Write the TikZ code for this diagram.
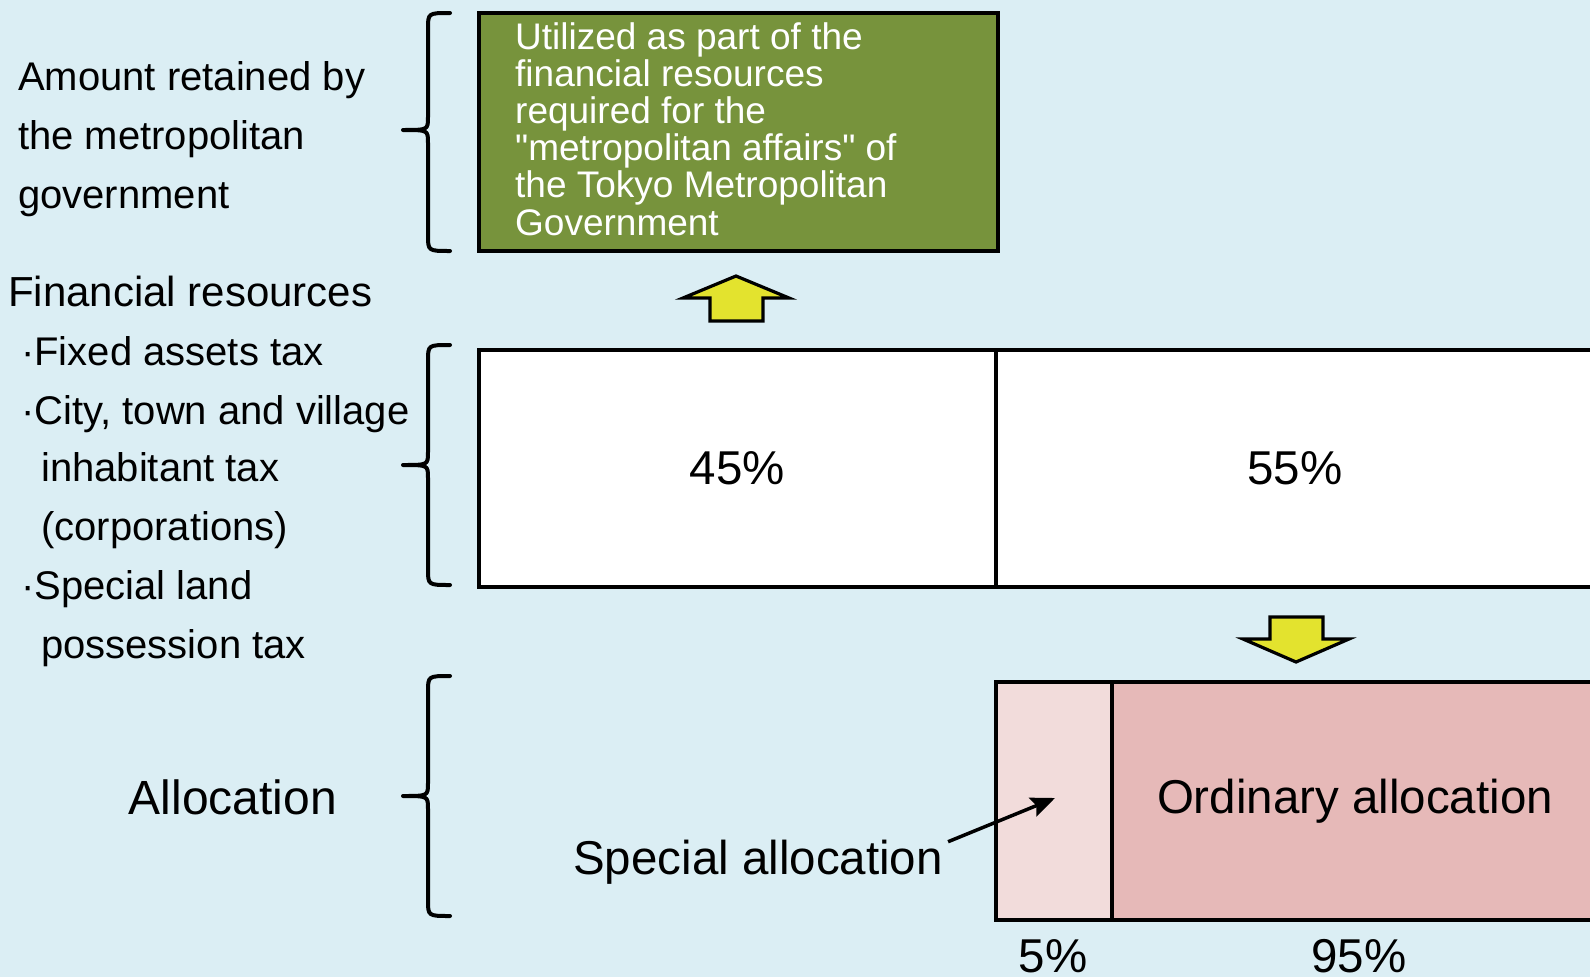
\documentclass[tikz,border=0pt]{standalone}
\usepackage{fontspec}
\setmainfont{Liberation Sans}
\usetikzlibrary{arrows.meta}
\definecolor{bg}{HTML}{DBEEF4}
\definecolor{olive}{HTML}{77933C}
\definecolor{arrowyel}{HTML}{E3E32E}
\definecolor{pinklt}{HTML}{F2DCDB}
\definecolor{pinkdk}{HTML}{E6B9B8}

% curly brace opening to the right: top y, tip y, bottom y
\newcommand\bracepath[3]{%
  \draw[brace] (450,#1) .. controls (428,#1) .. (428,#1+16) -- (428,#2-13)
    .. controls (428,#2) .. (403,#2) .. controls (428,#2) .. (428,#2+13)
    -- (428,#3-16) .. controls (428,#3) .. (450,#3);}
% straight double quote, set as a glyph so the TeX mapping leaves it alone
\newcommand\dq{\XeTeXglyph\XeTeXcharglyph"22\relax}

\begin{document}
\begin{tikzpicture}[x=1pt,y=-1pt,
  bar/.style={draw=black, line width=4pt, inner sep=0pt, outer sep=0pt,
    anchor=north west, font=\fontsize{47.5}{50}\selectfont},
  brace/.style={line width=4pt, line cap=round, line join=round},
  bigarrow/.style={draw=black, fill=arrowyel, line width=3.2pt, line join=miter},
  lbl/.style={inner sep=0pt, anchor=base west, font=\fontsize{40}{48}\selectfont},
  big/.style={inner sep=0pt, font=\fontsize{47.5}{50}\selectfont},
]
\fill[bg] (0,0) rectangle (1590,977);
\clip (0,0) rectangle (1590,977);

% retained share
\node[bar, fill=olive, minimum width=519pt, minimum height=238pt] (gov) at (479,13) {};
\node[anchor=north west, inner sep=0pt, align=left, text=white,
  font=\fontsize{37}{37.2}\selectfont] (govtxt) at (515,22)
  {Utilized as part of the\\financial resources\\required for the\\
   \dq metropolitan affairs\dq\ of\\the Tokyo Metropolitan\\Government};

% up arrow
\draw[bigarrow] (736,276) -- (789,298) -- (763,298) -- (763,321) -- (710,321)
  -- (710,298) -- (683,298) -- cycle;

% split of the financial resources
\node[bar, fill=white, minimum width=517pt, minimum height=237pt] (p45) at (479,350) {45\%};
\node[bar, fill=white, minimum width=598pt, minimum height=237pt] (p55) at (996,350) {55\%};

% down arrow
\draw[bigarrow] (1270,617) -- (1323,617) -- (1323,639) -- (1349,639) -- (1296,662)
  -- (1243,639) -- (1270,639) -- cycle;

% allocation
\node[bar, fill=pinklt, minimum width=116pt, minimum height=238pt] (sp) at (996,682) {};
\node[bar, fill=pinkdk, minimum width=486pt, minimum height=238pt] (ord) at (1112,682) {Ordinary allocation};

\node[big, anchor=base] (pc5) at (1053,972) {5\%};
\node[big, anchor=base] (pc95) at (1359,972) {95\%};

\node[big, anchor=base west] (spl) at (573,874) {Special allocation};
\coordinate (sptip) at (1055,798);
\draw[line width=3.5pt, -{Stealth[length=24pt, width=20pt, inset=4pt]}]
  ([shift={(5,-20)}]spl.east) -- (sptip);

% braces
\bracepath{13}{130}{251}
\bracepath{345}{465}{585}
\bracepath{676}{796}{916}

% left-hand labels
\node[lbl] (am1) at (18,90) {Amount retained by};
\node[lbl] (am2) at (18,149) {the metropolitan};
\node[lbl] (am3) at (18,208) {government};

\node[lbl, font=\fontsize{42}{48}\selectfont] (fr) at (8,306) {Financial resources};
\node[lbl] (fr1) at (21,365) {·Fixed assets tax};
\node[lbl] (fr2) at (21,424) {·City, town and village};
\node[lbl] (fr3) at (41,481) {inhabitant tax};
\node[lbl] (fr4) at (41,540) {(corporations)};
\node[lbl] (fr5) at (21,599) {·Special land};
\node[lbl] (fr6) at (41,658) {possession tax};

\node[inner sep=0pt, anchor=base, font=\fontsize{48}{50}\selectfont] (alloc) at (233,814) {Allocation};
\end{tikzpicture}
\end{document}
